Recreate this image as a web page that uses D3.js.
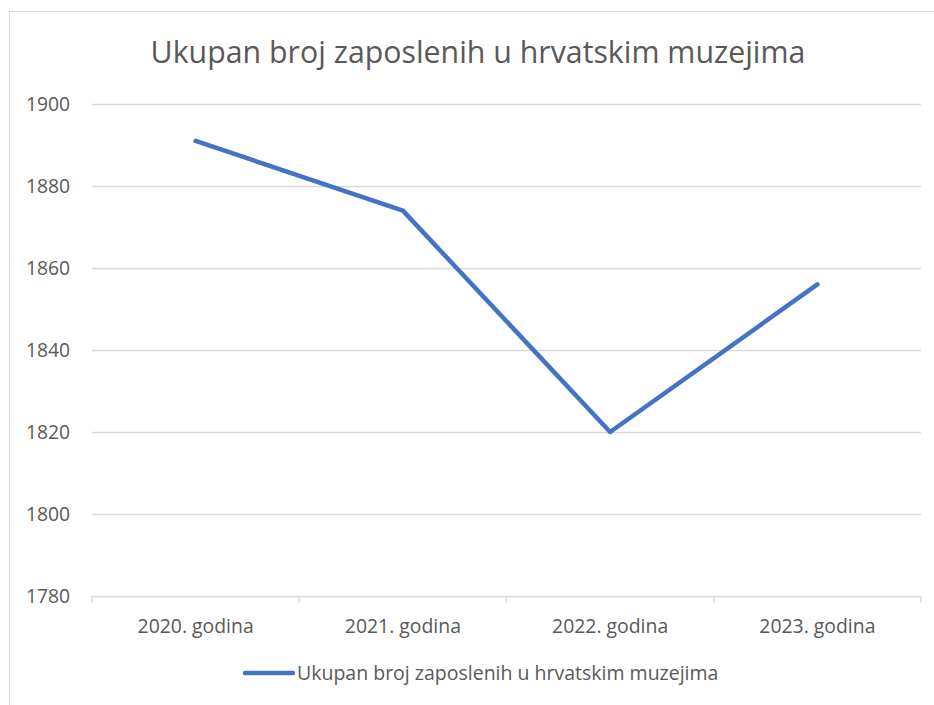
<!DOCTYPE html>
<html>
<head>
<meta charset="utf-8">
<script src="https://cdn.jsdelivr.net/npm/d3@7"></script>
<style>
  html, body { margin: 0; padding: 0; background: #fff; }
  svg { display: block; font-family: "Open Sans", Lato, sans-serif; }
</style>
</head>
<body>
<svg id="chart" width="934" height="705"></svg>
<script>
const categories = ['2020. godina', '2021. godina', '2022. godina', '2023. godina'];
const employees = [1891, 1874, 1820, 1856];
const yTicks = [1780, 1800, 1820, 1840, 1860, 1880, 1900];
const seriesName = 'Ukupan broj zaposlenih u hrvatskim muzejima';
const chartTitle = 'Ukupan broj zaposlenih u hrvatskim muzejima';

const textColor = '#595959';
const gridColor = '#d9d9d9';
const lineColor = '#4472c4';
const fontFamily = '"Open Sans", Lato, sans-serif';

const svg = d3.select('#chart');
const margin = { top: 104, right: 13, bottom: 109, left: 92 };
const width = 934 - margin.left - margin.right;
const height = 705 - margin.top - margin.bottom;

// chart frame
svg.append('rect')
  .attr('x', 9.5).attr('y', 11.5)
  .attr('width', 940).attr('height', 720)
  .attr('fill', 'none')
  .attr('stroke', gridColor);

svg.append('text')
  .attr('x', 478).attr('y', 63)
  .attr('text-anchor', 'middle')
  .attr('fill', textColor)
  .attr('font-size', 30.3)
  .text(chartTitle);

const g = svg.append('g').attr('transform', `translate(${margin.left},${margin.top})`);

const x = d3.scaleBand().domain(categories).range([0, width]);
const y = d3.scaleLinear().domain([1780, 1900]).range([height, 0]);

// gridlines
g.append('g')
  .selectAll('line')
  .data(yTicks.slice(1))
  .enter().append('line')
  .attr('x1', 0).attr('x2', width)
  .attr('y1', d => Math.round(y(d)) + 0.5)
  .attr('y2', d => Math.round(y(d)) + 0.5)
  .attr('stroke', gridColor)
  .attr('stroke-width', 1.3);

// y axis labels
const yAxis = g.append('g')
  .call(d3.axisLeft(y).tickValues(yTicks).tickSize(0).tickPadding(22).tickFormat(d3.format('d')));
yAxis.select('.domain').remove();
yAxis.selectAll('text')
  .attr('fill', textColor)
  .attr('font-size', 19.3)
  .attr('font-family', fontFamily);

// x axis with boundary ticks
const xAxis = g.append('g').attr('transform', `translate(0,${height})`);
xAxis.append('line')
  .attr('x1', 0).attr('x2', width)
  .attr('y1', 0.5).attr('y2', 0.5)
  .attr('stroke', gridColor).attr('stroke-width', 1.3);
xAxis.selectAll('.bound')
  .data(d3.range(categories.length + 1))
  .enter().append('line')
  .attr('x1', i => i === categories.length ? width : x(categories[i]))
  .attr('x2', i => i === categories.length ? width : x(categories[i]))
  .attr('y1', 0).attr('y2', 7)
  .attr('stroke', gridColor).attr('stroke-width', 1.3);
xAxis.selectAll('.lbl')
  .data(categories)
  .enter().append('text')
  .attr('x', d => x(d) + x.bandwidth() / 2)
  .attr('y', 37)
  .attr('text-anchor', 'middle')
  .attr('fill', textColor)
  .attr('font-size', 19.4)
  .text(d => d);

// series line
const line = d3.line()
  .x((d, i) => x(categories[i]) + x.bandwidth() / 2)
  .y(d => y(d));

g.append('path')
  .datum(employees)
  .attr('d', line)
  .attr('fill', 'none')
  .attr('stroke', lineColor)
  .attr('stroke-width', 4.5)
  .attr('stroke-linecap', 'round')
  .attr('stroke-linejoin', 'round');

// legend
const legend = svg.append('g').attr('transform', 'translate(0,673)');
legend.append('line')
  .attr('x1', 245).attr('x2', 293)
  .attr('y1', 0).attr('y2', 0)
  .attr('stroke', lineColor)
  .attr('stroke-width', 4.5)
  .attr('stroke-linecap', 'round');
legend.append('text')
  .attr('x', 297).attr('y', 7)
  .attr('fill', textColor)
  .attr('font-size', 19.5)
  .text(seriesName);
</script>
</body>
</html>
